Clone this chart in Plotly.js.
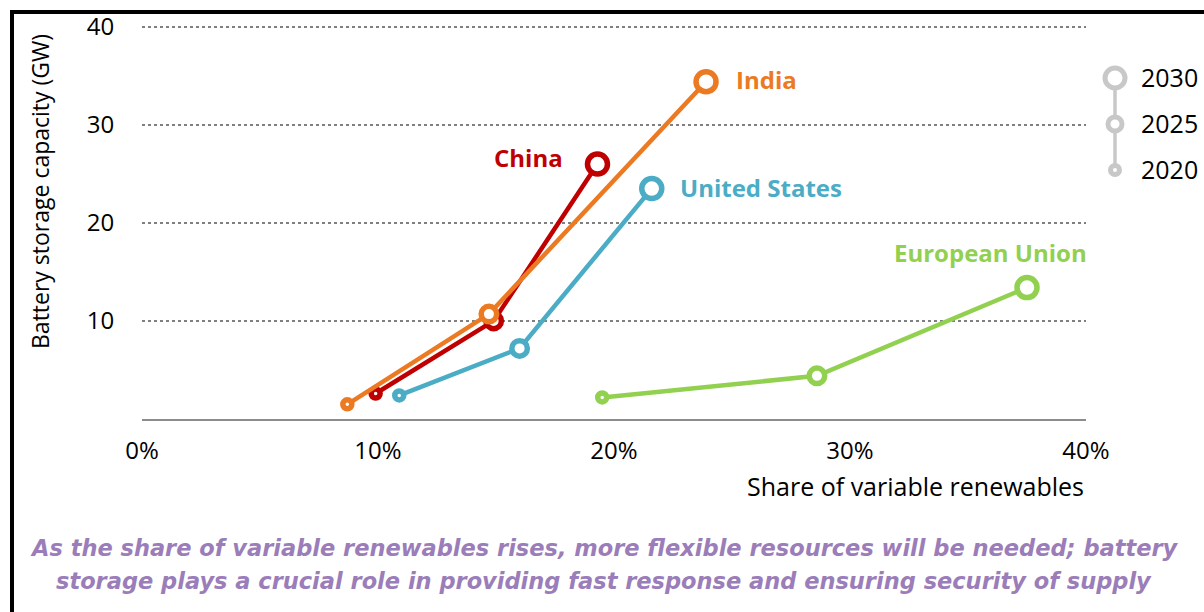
<!DOCTYPE html>
<html>
<head>
<meta charset="utf-8">
<script src="https://cdn.plot.ly/plotly-3.0.1.min.js"></script>
<style>
  html, body { margin: 0; padding: 0; background: #ffffff; }
  #chart { width: 1204px; height: 612px; }
</style>
</head>
<body>
<div id="chart"></div>
<script>
// ---- data ----
const years = ['2020', '2025', '2030'];
const chinaShare = [9.9, 14.9, 19.3];
const chinaGW = [2.6, 10.0, 26.0];
const indiaShare = [8.7, 14.7, 23.9];
const indiaGW = [1.5, 10.7, 34.4];
const usShare = [10.9, 16.0, 21.6];
const usGW = [2.4, 7.2, 23.5];
const euShare = [19.5, 28.6, 37.5];
const euGW = [2.2, 4.4, 13.4];
const yTicks = [10, 20, 30, 40];
const xTicks = [0, 10, 20, 30, 40];
const captionLines = [
  'As the share of variable renewables rises, more flexible resources will be needed; battery',
  'storage plays a crucial role in providing fast response and ensuring security of supply'
];

// ---- layout geometry (pixels) ----
const W = 1204, H = 612;
const mL = 142, mR = 10, mT = 17, mB = 193;
const plotW = W - mL - mR, plotH = H - mT - mB;
const mainRight = 1086;
const px2x = px => (px - mL) / plotW;
const px2y = py => 1 - (py - mT) / plotH;

const FONT = '"Open Sans", Lato, sans-serif';
const sizes = [9, 15.5, 20];

function series(xs, ys, color, name) {
  return {
    type: 'scatter', mode: 'lines+markers', name: name,
    x: xs, y: ys, xaxis: 'x', yaxis: 'y',
    cliponaxis: false, hoverinfo: 'skip', opacity: 1,
    line: { color: color, width: 4.5 },
    marker: { size: sizes, color: '#ffffff', opacity: 1, line: { color: color, width: 5.5 } }
  };
}

const C_CHINA = '#C00000', C_INDIA = '#EB7A22', C_US = '#4BACC6', C_EU = '#92D050';
const data = [
  series(usShare, usGW, C_US, 'United States'),
  series(euShare, euGW, C_EU, 'European Union'),
  series(chinaShare, chinaGW, C_CHINA, 'China'),
  series(indiaShare, indiaGW, C_INDIA, 'India'),
  {
    type: 'scatter', mode: 'lines+markers', x: [0, 0, 0], y: years,
    xaxis: 'x2', yaxis: 'y2', cliponaxis: false, hoverinfo: 'skip', opacity: 1,
    line: { color: '#C8C8C8', width: 3.5 },
    marker: { size: [9, 14, 20], color: '#ffffff', opacity: 1, line: { color: '#C8C8C8', width: 5 } }
  }
];

const lastIdx = 2;
const labelFont = (c) => ({ family: FONT, size: 24, color: c, weight: 'bold' });
const annotations = [
  { x: indiaShare[lastIdx], y: indiaGW[lastIdx], xref: 'x', yref: 'y', text: '<b>India</b>',
    showarrow: false, xanchor: 'left', yanchor: 'middle', xshift: 28, yshift: 2, font: labelFont(C_INDIA) },
  { x: chinaShare[lastIdx], y: chinaGW[lastIdx], xref: 'x', yref: 'y', text: '<b>China</b>',
    showarrow: false, xanchor: 'right', yanchor: 'middle', xshift: -32, yshift: 7, font: labelFont(C_CHINA) },
  { x: usShare[lastIdx], y: usGW[lastIdx], xref: 'x', yref: 'y', text: '<b>United States</b>',
    showarrow: false, xanchor: 'left', yanchor: 'middle', xshift: 26, yshift: 1, font: labelFont(C_US) },
  { x: euShare[lastIdx], y: euGW[lastIdx], xref: 'x', yref: 'y', text: '<b>European Union</b>',
    showarrow: false, xanchor: 'right', yanchor: 'middle', xshift: 62, yshift: 35, font: labelFont(C_EU) },
  { x: px2x(mainRight), y: px2y(486), xref: 'paper', yref: 'paper', text: 'Share of variable renewables',
    showarrow: false, xanchor: 'right', yanchor: 'middle', font: { family: FONT, size: 25, color: '#000000' } },
  { x: px2x(40), y: px2y(192), xref: 'paper', yref: 'paper', text: 'Battery storage capacity (GW)',
    textangle: -90, showarrow: false, xanchor: 'center', yanchor: 'middle', font: { family: FONT, size: 23, color: '#000000' } },
  { x: px2x(604), y: px2y(548), xref: 'paper', yref: 'paper', text: '<b><i>' + captionLines[0] + '</i></b>',
    showarrow: false, xanchor: 'center', yanchor: 'middle', font: { family: '"DejaVu Sans", sans-serif', size: 22.5, color: '#9A7DB9' } },
  { x: px2x(604), y: px2y(581), xref: 'paper', yref: 'paper', text: '<b><i>' + captionLines[1] + '</i></b>',
    showarrow: false, xanchor: 'center', yanchor: 'middle', font: { family: '"DejaVu Sans", sans-serif', size: 22.5, color: '#9A7DB9' } }
];

const shapes = [
  { type: 'line', xref: 'paper', yref: 'paper', x0: px2x(10), x1: px2x(1204), y0: px2y(12), y1: px2y(12),
    line: { color: '#000000', width: 4 } },
  { type: 'line', xref: 'paper', yref: 'paper', x0: px2x(12), x1: px2x(12), y0: px2y(10), y1: px2y(612),
    line: { color: '#000000', width: 4 } }
];

const layout = {
  width: W, height: H,
  margin: { l: mL, r: mR, t: mT, b: mB, pad: 0 },
  paper_bgcolor: '#ffffff', plot_bgcolor: '#ffffff',
  showlegend: false,
  font: { family: FONT, size: 22, color: '#000000' },
  xaxis: {
    domain: [0, px2x(mainRight)], range: [0, 40], fixedrange: true,
    tickvals: xTicks, ticktext: xTicks.map(v => v + '%'),
    showgrid: false, zeroline: false,
    showline: true, linecolor: '#8C8C8C', linewidth: 1.5,
    ticks: 'outside', ticklen: 10, tickcolor: 'rgba(0,0,0,0)',
    tickfont: { family: FONT, size: 24, color: '#000000' }
  },
  yaxis: {
    domain: [0, 1], range: [0, 41], fixedrange: true,
    tickvals: yTicks, showgrid: true, gridcolor: '#7F7F7F', gridwidth: 2, griddash: 'dot',
    zeroline: false, showline: false,
    ticks: 'outside', ticklen: 22, tickcolor: 'rgba(0,0,0,0)',
    tickfont: { family: FONT, size: 24, color: '#000000' }
  },
  xaxis2: {
    domain: [px2x(1105), px2x(1125)], range: [-1, 1], anchor: 'y2',
    visible: false, fixedrange: true
  },
  yaxis2: {
    domain: [px2y(193), px2y(55)], anchor: 'x2', type: 'category',
    categoryorder: 'array', categoryarray: years, range: [-0.5, 2.5],
    side: 'right', showgrid: false, zeroline: false, showline: false,
    ticks: 'outside', ticklen: 10, tickcolor: 'rgba(0,0,0,0)',
    tickfont: { family: FONT, size: 25, color: '#000000' }, fixedrange: true
  },
  annotations: annotations,
  shapes: shapes
};

Plotly.newPlot('chart', data, layout, { staticPlot: true, displayModeBar: false });
</script>
</body>
</html>
